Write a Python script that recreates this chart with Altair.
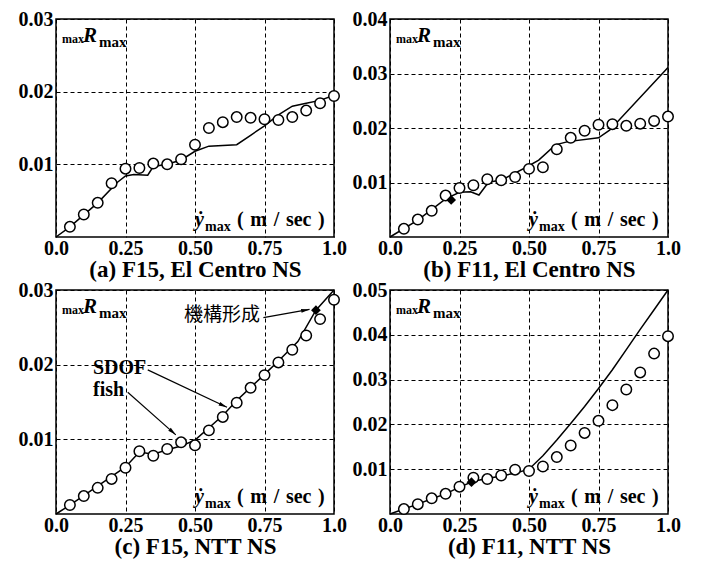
import math
import altair as alt
import pandas as pd

# ---------------- data ----------------
x_pts = [0.05, 0.10, 0.15, 0.20, 0.25, 0.30, 0.35, 0.40, 0.45, 0.50,
         0.55, 0.60, 0.65, 0.70, 0.75, 0.80, 0.85, 0.90, 0.95, 1.00]

a_circ = [0.0014, 0.0031, 0.0047, 0.0074, 0.0094, 0.0095, 0.0101, 0.0100, 0.0107, 0.0127,
          0.0150, 0.0158, 0.0165, 0.0164, 0.0162, 0.0161, 0.0165, 0.0174, 0.0184, 0.0194]
a_line_x = [0, 0.05, 0.15, 0.22, 0.25, 0.28, 0.33, 0.35, 0.40, 0.45, 0.50, 0.55, 0.65,
            0.70, 0.75, 0.80, 0.85, 0.90, 0.95, 1.0]
a_line_y = [0, 0.0014, 0.0047, 0.0075, 0.0084, 0.0086, 0.0085, 0.0097, 0.0100, 0.0106,
            0.0118, 0.0125, 0.0127, 0.0140, 0.0153, 0.0168, 0.0180, 0.0184, 0.0188, 0.0195]

b_circ = [0.0015, 0.0032, 0.0048, 0.0076, 0.0090, 0.0095, 0.0106, 0.0104, 0.0110, 0.0125,
          0.0128, 0.0161, 0.0182, 0.0195, 0.0206, 0.0207, 0.0204, 0.0208, 0.0213, 0.0221]
b_line_x = [0, 0.10, 0.20, 0.25, 0.29, 0.32, 0.355, 0.40, 0.49, 0.535, 0.595, 0.64, 0.75, 0.79, 1.0]
b_line_y = [0, 0.0031, 0.0070, 0.0082, 0.0083, 0.0077, 0.0101, 0.0104, 0.0128, 0.0141,
            0.0169, 0.0175, 0.0182, 0.0196, 0.0311]
b_diamond_x = [0.22]
b_diamond_y = [0.0068]

c_circ = [0.0012, 0.0024, 0.0035, 0.0047, 0.0062, 0.0084, 0.0078, 0.0087, 0.0096, 0.0092,
          0.0112, 0.0130, 0.0149, 0.0169, 0.0186, 0.0203, 0.0220, 0.0239, 0.0261, 0.0287]
c_line_x = [0, 0.05, 0.25, 0.30, 0.35, 0.40, 0.45, 0.50, 0.60, 0.65, 0.75, 0.80, 0.87, 0.935, 1.0]
c_line_y = [0, 0.0012, 0.0063, 0.0083, 0.0080, 0.0086, 0.0091, 0.0099, 0.0132, 0.0152,
            0.0187, 0.0205, 0.0231, 0.0273, 0.0300]
c_diamond_x = [0.935]
c_diamond_y = [0.0273]

d_circ = [0.0011, 0.0022, 0.0035, 0.0045, 0.0061, 0.0081, 0.0078, 0.0086, 0.0099, 0.0096,
          0.0106, 0.0127, 0.0153, 0.0181, 0.0208, 0.0243, 0.0278, 0.0316, 0.0358, 0.0397]
d_line_x = [0, 0.05, 0.10, 0.15, 0.20, 0.25, 0.30, 0.35, 0.40, 0.45, 0.50, 0.55, 0.60,
            0.65, 0.70, 0.75, 0.80, 0.85, 0.90, 0.95, 1.0]
d_line_y = [0, 0.0011, 0.0022, 0.0034, 0.0045, 0.0060, 0.0073, 0.0079, 0.0085, 0.0091,
            0.0100, 0.0130, 0.0165, 0.0202, 0.0240, 0.0280, 0.0322, 0.0367, 0.0412, 0.0456, 0.050]
d_diamond_x = [0.293]
d_diamond_y = [0.0071]

# annotation arrows in panel (c): label, start (x, y), end (x, y)
arrow_labels = ["機構形成", "SDOF", "fish"]
arrow_x1 = [0.746, 0.330, 0.258]
arrow_y1 = [0.0263, 0.0193, 0.0163]
arrow_x2 = [0.912, 0.615, 0.431]
arrow_y2 = [0.0274, 0.0143, 0.0106]

x_ticks = [0, 0.25, 0.5, 0.75, 1.0]
x_tick_labels = ["0.0", "0.25", "0.50", "0.75", "1.0"]

captions = ["(a) F15, El Centro NS", "(b) F11, El Centro NS",
            "(c) F15, NTT NS", "(d) F11, NTT NS"]
y_max = [0.03, 0.04, 0.03, 0.05]
y_ticks = [[0.01, 0.02, 0.03], [0.01, 0.02, 0.03, 0.04],
           [0.01, 0.02, 0.03], [0.01, 0.02, 0.03, 0.04, 0.05]]

W = 278
H_TOP = 218
H_BOT = 224

SERIF = "Liberation Serif"
SP = "\u2004"  # three-per-em space

label_expr = "[" + ",".join("'%s'" % s for s in x_tick_labels) + "][indexof([" + \
    ",".join(str(v) for v in x_ticks) + "], datum.value)]"


def txt(s, x, y, font=SERIF, size=17, style="normal", weight="bold"):
    return alt.Chart(pd.DataFrame({"t": [s]})).mark_text(
        font=font, fontSize=size, fontStyle=style, fontWeight=weight, align="left",
        baseline="alphabetic", color="black"
    ).encode(text="t:N", x=alt.value(x), y=alt.value(y))


def panel(i, line_x, line_y, circ, h, dx=None, dy=None, extra=None):
    xsc = alt.Scale(domain=[0, 1], nice=False, zero=False)
    ysc = alt.Scale(domain=[0, y_max[i]], nice=False)
    xax = alt.Axis(values=x_ticks, labelExpr=label_expr, title=captions[i],
                   labelPadding=1, titlePadding=0, labelFlush=False)
    yax = alt.Axis(values=y_ticks[i], format=".2f", title=None, labelPadding=3)
    X = alt.X("x:Q", scale=xsc, axis=xax)
    Y = alt.Y("y:Q", scale=ysc, axis=yax)

    line = alt.Chart(pd.DataFrame({"x": line_x, "y": line_y})).mark_line(
        color="black", strokeWidth=1.5).encode(x=X, y=Y)
    pts = alt.Chart(pd.DataFrame({"x": x_pts, "y": circ})).mark_point(
        shape="circle", filled=True, fill="white", stroke="black",
        strokeWidth=1.5, size=110, opacity=1).encode(x=X, y=Y)
    layers = [line, pts]
    if dx is not None:
        layers.append(alt.Chart(pd.DataFrame({"x": dx, "y": dy})).mark_point(
            shape="diamond", filled=True, color="black", size=95, opacity=1
        ).encode(x=X, y=Y))
    if extra is not None:
        layers += extra(X, Y, h)
    # axis-name labels
    layers += [
        txt("max", 6, 24, SERIF, 12),
        txt("R", 27, 23, SERIF, 21, "italic"),
        txt("max", 43, 28, SERIF, 15),
        txt("ẏ", 139, h - 11, SERIF, 20, "italic"),
        txt("max", 149, h - 6, SERIF, 14),
        txt(SP.join(["(", "m", "/", "sec", ")"]), 181, h - 11, SERIF, 20),
    ]
    return alt.layer(*layers).properties(width=W, height=h)


def arrows_c(X, Y, h):
    out = []
    df = pd.DataFrame({"x": arrow_x1, "y": arrow_y1, "x2": arrow_x2, "y2": arrow_y2})
    out.append(alt.Chart(df).mark_rule(color="black", strokeWidth=1.2).encode(
        x=X, y=Y, x2="x2:Q", y2="y2:Q"))
    for k in range(len(arrow_labels)):
        pdx = (arrow_x2[k] - arrow_x1[k]) * W
        pdy = -(arrow_y2[k] - arrow_y1[k]) * h / y_max[2]
        ang = math.degrees(math.atan2(pdx, -pdy)) % 360
        out.append(alt.Chart(pd.DataFrame({"x": [arrow_x2[k]], "y": [arrow_y2[k]]})).mark_point(
            shape="M0,0L-0.55,2.4L0.55,2.4Z", filled=True, color="black",
            size=49, angle=ang, opacity=1).encode(x=X, y=Y))
    out.append(txt(arrow_labels[0], 128, 31, "Noto Sans CJK JP", 19, weight="normal"))
    out.append(txt(arrow_labels[1], 37, 84, SERIF, 20))
    out.append(txt(arrow_labels[2], 37, 106, SERIF, 20))
    return out


pa = panel(0, a_line_x, a_line_y, a_circ, H_TOP)
pb = panel(1, b_line_x, b_line_y, b_circ, H_TOP, b_diamond_x, b_diamond_y)
pc = panel(2, c_line_x, c_line_y, c_circ, H_BOT, c_diamond_x, c_diamond_y, arrows_c)
pd_ = panel(3, d_line_x, d_line_y, d_circ, H_BOT, d_diamond_x, d_diamond_y)

chart = alt.concat(pa, pb, pc, pd_, columns=2, spacing={"row": 53, "column": 56},
                   bounds="flush", align="each").properties(
    padding={"left": 9, "top": 0, "right": 2, "bottom": 0},
    background="white",
).configure_view(
    stroke="black", strokeWidth=1.5
).configure_axis(
    labelFont=SERIF, labelFontSize=20, labelColor="black", labelFontWeight="bold",
    titleFont=SERIF, titleFontSize=23, titleFontWeight="bold", titleColor="black",
    domain=False, ticks=False, grid=True, gridColor="black", gridDash=[4, 3],
    gridWidth=1, gridOpacity=1,
)

chart.save("out.html", embed_options={"renderer": "svg", "actions": False})
